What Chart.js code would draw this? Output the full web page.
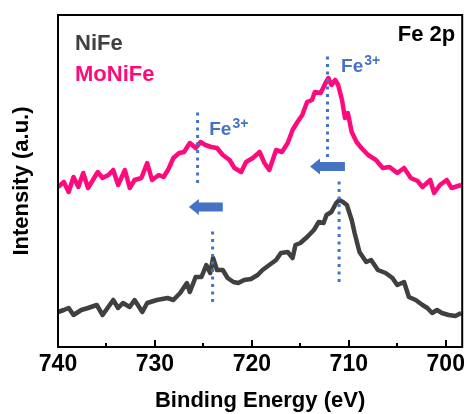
<!DOCTYPE html>
<html>
<head>
<meta charset="utf-8">
<script src="https://cdn.jsdelivr.net/npm/chart.js@4.4.1/dist/chart.umd.min.js"></script>
<style>
  html, body { margin: 0; padding: 0; background: #fff; }
</style>
</head>
<body>
<canvas id="xps" width="469" height="414"></canvas>
<script>
// Fe 2p spectra (intensity in arbitrary units)
const energyNiFe = [740.0, 739.4, 738.9, 738.4, 737.6, 736.9, 736.0, 735.4, 734.3, 733.8, 733.3, 732.6, 732.1, 731.3, 730.8, 729.8, 728.7, 728.1, 727.4, 726.7, 726.4, 725.8, 725.2, 724.7, 724.3, 724.0, 723.6, 723.0, 722.5, 721.9, 721.4, 720.8, 720.1, 719.4, 718.9, 718.2, 717.5, 717.0, 716.3, 715.8, 715.5, 715.0, 714.3, 713.6, 713.1, 712.6, 712.3, 711.8, 711.3, 711.0, 710.6, 710.2, 709.7, 709.4, 708.9, 708.2, 707.7, 707.0, 706.2, 705.5, 705.0, 704.3, 703.8, 703.1, 702.4, 701.9, 701.4, 700.9, 700.4, 699.7, 699.0, 698.4];
const intensityNiFe = [35, 37, 39, 32, 37, 39, 42, 32, 47, 39, 44, 40, 47, 35, 44, 47, 49, 47, 54, 64, 55, 70, 70, 82, 74, 89, 77, 77, 69, 65, 64, 67, 68, 72, 77, 82, 87, 94, 95, 89, 102, 104, 110, 117, 125, 124, 132, 135, 144, 147, 145, 142, 127, 114, 95, 85, 87, 77, 74, 69, 62, 65, 50, 47, 42, 39, 34, 37, 34, 32, 31, 34];

const energyMoNiFe = [740.0, 739.4, 738.9, 738.4, 737.9, 737.4, 736.9, 736.4, 735.9, 735.4, 734.8, 734.3, 733.8, 733.1, 732.6, 732.1, 731.4, 730.8, 730.3, 729.6, 729.1, 728.6, 728.1, 727.5, 727.0, 726.4, 725.8, 725.3, 724.8, 724.2, 723.6, 723.0, 722.3, 721.8, 721.1, 720.6, 719.9, 719.2, 718.7, 718.2, 717.5, 716.9, 716.3, 715.8, 715.3, 714.8, 714.3, 713.8, 713.5, 712.9, 712.4, 712.1, 711.8, 711.4, 711.1, 710.7, 710.4, 710.1, 709.7, 709.2, 708.7, 708.0, 707.2, 706.5, 705.8, 705.0, 704.3, 703.6, 702.9, 702.4, 701.6, 701.2, 700.6, 699.9, 699.4, 698.4];
const intensityMoNiFe = [160, 165, 155, 170, 160, 174, 159, 167, 175, 169, 172, 177, 162, 177, 159, 167, 169, 184, 167, 172, 170, 178, 189, 194, 195, 204, 199, 205, 202, 200, 199, 192, 187, 179, 175, 185, 189, 195, 184, 177, 197, 195, 204, 217, 225, 232, 245, 247, 255, 254, 264, 269, 262, 267, 262, 247, 229, 234, 215, 205, 199, 192, 187, 179, 180, 174, 179, 169, 166, 160, 167, 154, 162, 167, 159, 162];

const tickValues = [740, 730, 720, 710, 700];
const minorTickValues = [735, 725, 715, 705];

// dotted peak markers
const markerEnergy = [725.6, 712.2, 724.05, 711.0];
const markerLow = [164, 190, 45, 65];
const markerHigh = [237, 294, 119, 167];

// shift arrows
const arrowTip = [726.5, 714.0];
const arrowTail = [723.0, 710.4];
const arrowLevel = [140, 180.5];

// Fe3+ labels (baseline)
const labelEnergy = [724.4, 710.8];
const labelLevel = [212, 275];

const grey = '#404040';
const pink = '#ff0a7c';
const blue = '#4472c4';

Chart.defaults.font.family = '"Liberation Sans", Arial, sans-serif';
Chart.defaults.color = '#000';

const decor = {
  id: 'decor',
  afterDatasetsDraw(chart) {
    const ctx = chart.ctx, a = chart.chartArea;
    const xs = chart.scales.x, ys = chart.scales.y;
    ctx.save();

    // arrows
    ctx.fillStyle = blue;
    for (let i = 0; i < arrowTip.length; i++) {
      const x0 = xs.getPixelForValue(arrowTip[i]);
      const x1 = xs.getPixelForValue(arrowTail[i]);
      const y = ys.getPixelForValue(arrowLevel[i]);
      ctx.beginPath();
      ctx.moveTo(x0, y);
      ctx.lineTo(x0 + 10, y - 8);
      ctx.lineTo(x0 + 10, y - 4.5);
      ctx.lineTo(x1, y - 4.5);
      ctx.lineTo(x1, y + 4.5);
      ctx.lineTo(x0 + 10, y + 4.5);
      ctx.lineTo(x0 + 10, y + 8);
      ctx.closePath();
      ctx.fill();
    }

    // Fe3+ labels
    ctx.textBaseline = 'alphabetic';
    ctx.textAlign = 'left';
    for (let i = 0; i < labelEnergy.length; i++) {
      const x = xs.getPixelForValue(labelEnergy[i]);
      const y = ys.getPixelForValue(labelLevel[i]);
      ctx.font = 'bold 19px "Liberation Sans", Arial, sans-serif';
      ctx.fillText('Fe', x, y);
      const w = ctx.measureText('Fe').width;
      ctx.font = 'bold 14px "Liberation Sans", Arial, sans-serif';
      ctx.fillText('3+', x + w + 1, y - 7);
    }

    // sample names and core level
    ctx.font = 'bold 22px "Liberation Sans", Arial, sans-serif';
    ctx.fillStyle = grey;
    ctx.fillText('NiFe', a.left + 17, a.top + 35);
    ctx.fillStyle = pink;
    ctx.fillText('MoNiFe', a.left + 17, a.top + 66);
    ctx.fillStyle = '#000';
    ctx.textAlign = 'right';
    ctx.fillText('Fe 2p', a.right - 7, a.top + 26);

    // frame and inward ticks
    ctx.strokeStyle = '#000';
    ctx.lineWidth = 2;
    ctx.strokeRect(a.left, a.top, a.right - a.left, a.bottom - a.top);
    ctx.beginPath();
    tickValues.forEach(v => {
      const x = Math.round(xs.getPixelForValue(v));
      ctx.moveTo(x, a.bottom);
      ctx.lineTo(x, a.bottom - 7);
    });
    minorTickValues.forEach(v => {
      const x = Math.round(xs.getPixelForValue(v));
      ctx.moveTo(x, a.bottom);
      ctx.lineTo(x, a.bottom - 4);
    });
    ctx.stroke();
    ctx.restore();
  }
};

const datasets = [
  {
    label: 'NiFe',
    data: energyNiFe.map((e, i) => ({ x: e, y: intensityNiFe[i] })),
    borderColor: grey,
    borderWidth: 4.5,
    borderJoinStyle: 'round',
    pointRadius: 0,
    order: 2
  },
  {
    label: 'MoNiFe',
    data: energyMoNiFe.map((e, i) => ({ x: e, y: intensityMoNiFe[i] })),
    borderColor: pink,
    borderWidth: 4.5,
    borderJoinStyle: 'round',
    pointRadius: 0,
    order: 2
  }
];
markerEnergy.forEach((e, i) => {
  datasets.push({
    data: [{ x: e, y: markerLow[i] }, { x: e, y: markerHigh[i] }],
    borderColor: blue,
    borderWidth: 3,
    borderDash: [3, 4.5],
    pointRadius: 0,
    order: 1
  });
});

new Chart(document.getElementById('xps'), {
  type: 'line',
  data: { datasets: datasets },
  options: {
    responsive: false,
    animation: false,
    devicePixelRatio: 1,
    layout: { padding: { top: 15, right: 2, left: 0, bottom: 0 } },
    plugins: { legend: { display: false }, tooltip: { enabled: false } },
    scales: {
      x: {
        type: 'linear',
        min: 698.3,
        max: 740,
        reverse: true,
        grid: { display: false, drawTicks: false },
        border: { display: false },
        ticks: { font: { size: 23, weight: 'bold' }, padding: 4, autoSkip: false, maxRotation: 0 },
        afterBuildTicks: s => { s.ticks = tickValues.map(v => ({ value: v })); },
        afterFit: s => { s.height = 67; },
        title: { display: true, text: 'Binding Energy (eV)', font: { size: 22, weight: 'bold' }, padding: { top: 0, bottom: 0 } }
      },
      y: {
        min: 0,
        max: 332,
        grid: { display: false, drawTicks: false },
        border: { display: false },
        ticks: { display: false },
        afterFit: s => { s.width = 58; },
        title: { display: true, text: 'Intensity (a.u.)', font: { size: 22, weight: 'bold' }, padding: { top: 9, bottom: 0 } }
      }
    }
  },
  plugins: [decor]
});
</script>
</body>
</html>
